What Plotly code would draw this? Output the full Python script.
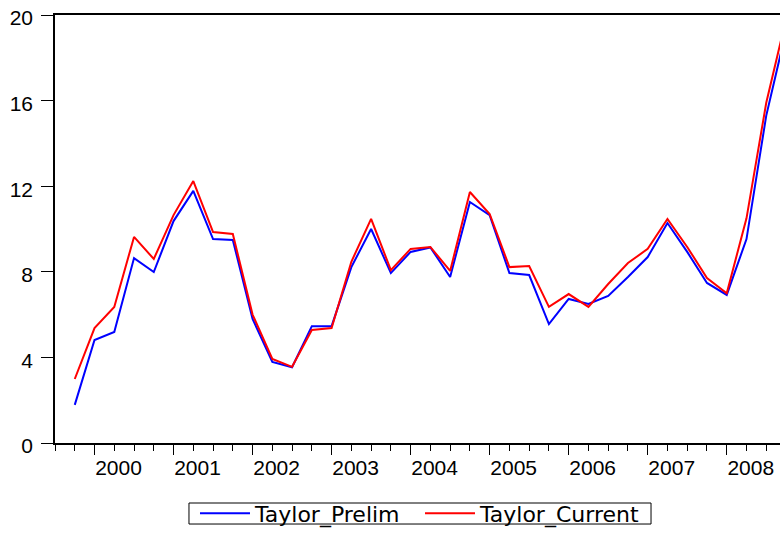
import plotly.graph_objects as go

quarters = ["1999Q4",
            "2000Q1", "2000Q2", "2000Q3", "2000Q4",
            "2001Q1", "2001Q2", "2001Q3", "2001Q4",
            "2002Q1", "2002Q2", "2002Q3", "2002Q4",
            "2003Q1", "2003Q2", "2003Q3", "2003Q4",
            "2004Q1", "2004Q2", "2004Q3", "2004Q4",
            "2005Q1", "2005Q2", "2005Q3", "2005Q4",
            "2006Q1", "2006Q2", "2006Q3", "2006Q4",
            "2007Q1", "2007Q2", "2007Q3", "2007Q4",
            "2008Q1", "2008Q2", "2008Q3", "2008Q4"]

taylor_prelim = [1.78, 4.81, 5.19, 8.64, 7.99, 10.37, 11.78, 9.53, 9.49,
                 5.80, 3.79, 3.54, 5.46, 5.46, 8.22, 10.00, 7.94, 8.93,
                 9.14, 7.76, 11.26, 10.65, 7.94, 7.85, 5.56, 6.73, 6.50,
                 6.87, 7.76, 8.69, 10.28, 8.93, 7.48, 6.92, 9.53, 15.30, 19.25]

taylor_current = [2.99, 5.37, 6.36, 9.63, 8.60, 10.65, 12.24, 9.86, 9.77,
                  6.00, 3.93, 3.56, 5.28, 5.37, 8.47, 10.47, 8.08, 9.07,
                  9.16, 8.04, 11.73, 10.70, 8.22, 8.27, 6.36, 6.96, 6.36,
                  7.43, 8.41, 9.07, 10.47, 9.16, 7.71, 7.00, 10.50, 15.90, 19.80]

year_ticks = [2000, 2001, 2002, 2003, 2004, 2005, 2006, 2007, 2008]
year_labels = ["2000", "2001", "2002", "2003", "2004", "2005", "2006", "2007", "2008"]
y_ticks = [0, 4, 8, 12, 16, 20]

def q_to_num(q):
    return int(q[:4]) + (int(q[-1]) - 1) / 4.0

x = [q_to_num(q) for q in quarters]

axfont = "Liberation Sans, Arial, sans-serif"

fig = go.Figure()
fig.add_trace(go.Scatter(x=x, y=taylor_prelim, mode="lines", name="Taylor_Prelim",
                         line=dict(color="#0000FF", width=2)))
fig.add_trace(go.Scatter(x=x, y=taylor_current, mode="lines", name="Taylor_Current",
                         line=dict(color="#FF0000", width=2)))

fig.update_layout(
    width=780, height=538,
    margin=dict(l=55, r=0, t=15, b=95, autoexpand=False),
    paper_bgcolor="white", plot_bgcolor="white",
    showlegend=True,
    legend=dict(orientation="h", x=0.1931, y=-0.1647, xanchor="left", yanchor="middle",
                borderwidth=0, bgcolor="rgba(0,0,0,0)",
                font=dict(family="DejaVu Sans, sans-serif", size=22, color="black"),
                itemwidth=50, entrywidth=160, entrywidthmode="pixels",
                tracegroupgap=0),
    shapes=[dict(type="rect", xref="paper", yref="paper",
                 x0=0.1848, x1=0.8221, y0=-0.1893, y1=-0.1402,
                 line=dict(color="black", width=1), fillcolor="rgba(0,0,0,0)",
                 layer="below")],
    xaxis=dict(range=[1999.5, 2008.674], showgrid=False, zeroline=False, automargin=False,
               showline=True, linecolor="black", linewidth=1.5, mirror=True,
               tickmode="array", tickvals=year_ticks, ticktext=year_labels,
               ticks="outside", ticklen=10, tickcolor="black", tickwidth=1.2,
               ticklabelshift=24, ticklabelstandoff=-5,
               tickfont=dict(family=axfont, size=21, color="black"),
               minor=dict(dtick=0.25, tick0=1999.75, ticks="outside", ticklen=6,
                          tickcolor="black", tickwidth=1.2, showgrid=False)),
    yaxis=dict(range=[0, 20], showgrid=False, zeroline=False, automargin=False,
               showline=True, linecolor="black", linewidth=1.5,
               tickmode="array", tickvals=y_ticks, ticktext=[str(v) for v in y_ticks],
               ticks="outside", ticklen=12, tickcolor="black", tickwidth=1.2,
               ticklabelstandoff=4, ticklabelshift=3,
               tickfont=dict(family=axfont, size=21, color="black")),
)

fig.write_html("out.html", config={"displayModeBar": False},
               post_script="document.body.style.margin='0';document.body.style.overflow='hidden';")
